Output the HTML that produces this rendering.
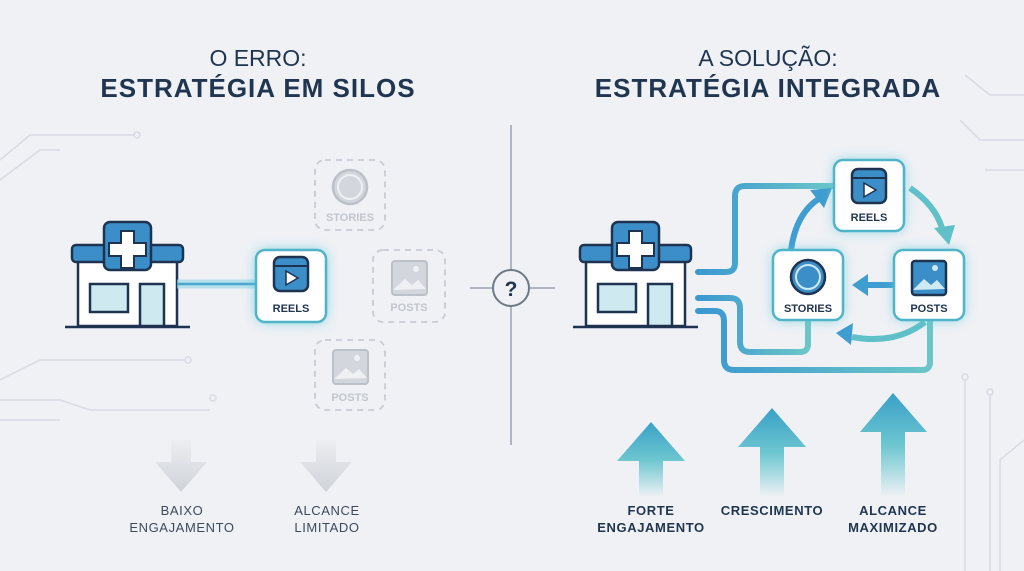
<!DOCTYPE html>
<html><head><meta charset="utf-8"><style>
html,body{margin:0;padding:0;background:#eff1f5;}
svg{display:block;font-family:"Liberation Sans",sans-serif;}
</style></head><body>
<svg width="1024" height="571" viewBox="0 0 1024 571">
<defs>
<linearGradient id="up" x1="0" y1="0" x2="0" y2="1">
<stop offset="0" stop-color="#3aa0c8"/><stop offset="0.5" stop-color="#6cc6cf"/><stop offset="1" stop-color="#eff1f5"/></linearGradient>
<linearGradient id="dn" x1="0" y1="0" x2="0" y2="1">
<stop offset="0" stop-color="#eceef1"/><stop offset="1" stop-color="#cfd2d8"/></linearGradient>
<linearGradient id="ln" x1="0" y1="0" x2="1" y2="0">
<stop offset="0" stop-color="#3b98d0"/><stop offset="1" stop-color="#6cc6c8"/></linearGradient>
<filter id="glow" x="-40%" y="-40%" width="180%" height="180%"><feGaussianBlur stdDeviation="6"/></filter>
<g id="bld">
<rect x="13" y="38" width="99" height="66" fill="#fff" stroke="#1e3350" stroke-width="2.5"/>
<rect x="7" y="23" width="111" height="17" rx="4" fill="#3b8ec8" stroke="#1e3350" stroke-width="2.5"/>
<rect x="39" y="0" width="47" height="48" rx="6" fill="#3b8ec8" stroke="#1e3350" stroke-width="2.5"/>
<path d="M56 9h13v12h12v13h-12v12h-13v-12h-12v-13h12z" fill="#fff" stroke="#1e3350" stroke-width="2"/>
<rect x="25" y="62" width="38" height="28" fill="#cfe9f0" stroke="#1e3350" stroke-width="2.5"/>
<rect x="75" y="62" width="24" height="42" fill="#cfe9f0" stroke="#1e3350" stroke-width="2.5"/>
<line x1="0" y1="105" x2="125" y2="105" stroke="#1e3350" stroke-width="2.5"/>
</g>
<g id="reelicon">
<rect x="-17" y="-17" width="34" height="34" rx="6" fill="#3b8ec8" stroke="#1e3350" stroke-width="2.5"/>
<line x1="-17" y1="-8" x2="17" y2="-8" stroke="#1e3350" stroke-width="2"/>
<path d="M-5 -3 L7 4 L-5 11Z" fill="#fff" stroke="#1e3350" stroke-width="1.5"/>
</g>
</defs>

<g stroke="#d7dbe2" stroke-width="1.5" fill="none">
<path d="M0 160 L30 135 L135 135"/><circle cx="137" cy="135" r="3"/>
<path d="M0 180 L40 150 L60 150"/>
<path d="M0 380 L40 360 L185 360"/><circle cx="188" cy="360" r="3"/>
<path d="M0 400 L60 400 L90 410 L210 410"/><circle cx="213" cy="398" r="3"/>
<path d="M0 420 L60 420"/>
<path d="M1024 140 L980 140 L960 120"/><path d="M1024 170 L985 170"/>
<path d="M1024 95 L990 95 L965 75"/>
<path d="M965 380 L965 571"/><circle cx="965" cy="377" r="3"/>
<path d="M990 395 L990 571"/><circle cx="990" cy="392" r="3"/>
<path d="M1024 440 L1000 460 L1000 571"/>
</g>

<text x="258" y="66" font-size="23" fill="#1f3550" text-anchor="middle">O ERRO:</text>
<text x="258" y="97" font-size="26" font-weight="bold" fill="#1f3550" text-anchor="middle" letter-spacing="1">ESTRATÉGIA EM SILOS</text>
<text x="768" y="66" font-size="23" fill="#1f3550" text-anchor="middle">A SOLUÇÃO:</text>
<text x="768" y="97" font-size="26" font-weight="bold" fill="#1f3550" text-anchor="middle" letter-spacing="1">ESTRATÉGIA INTEGRADA</text>

<line x1="511" y1="125" x2="511" y2="445" stroke="#9aa2ae" stroke-width="1.5"/>
<line x1="470" y1="288" x2="555" y2="288" stroke="#9aa2ae" stroke-width="1.5"/>
<circle cx="511" cy="288" r="18" fill="#eff1f5" stroke="#6f7885" stroke-width="2"/>
<text x="511" y="296" font-size="21" font-weight="bold" fill="#1f3550" text-anchor="middle">?</text>

<use href="#bld" x="65" y="222"/>
<line x1="177" y1="284" x2="256" y2="284" stroke="#9fdbe6" stroke-width="9" opacity="0.7"/>
<line x1="177" y1="284" x2="256" y2="284" stroke="#4aa6cf" stroke-width="2.5"/>
<rect x="256" y="250" width="70" height="72" rx="9" fill="#5cc8d8" filter="url(#glow)" opacity="0.8"/>
<rect x="256" y="250" width="70" height="72" rx="9" fill="#fff" stroke="#4fb4c8" stroke-width="2.5"/>
<use href="#reelicon" x="291" y="274"/>
<text x="291" y="312" font-size="11" font-weight="bold" fill="#1f3550" text-anchor="middle">REELS</text>

<g fill="none" stroke="#c8ccd3" stroke-width="1.8" stroke-dasharray="6 5">
<rect x="315" y="160" width="70" height="70" rx="10"/>
<rect x="373" y="250" width="72" height="72" rx="10"/>
<rect x="315" y="340" width="70" height="70" rx="10"/>
</g>
<circle cx="350" cy="187" r="17" fill="#d3d6dc" stroke="#bcc0c7" stroke-width="2.5"/>
<circle cx="350" cy="187" r="12" fill="none" stroke="#eef0f3" stroke-width="2"/>
<text x="350" y="221" font-size="11" font-weight="bold" fill="#c2c6cd" text-anchor="middle">STORIES</text>
<rect x="392" y="261" width="35" height="34" rx="3" fill="#d3d6dc" stroke="#bcc0c7" stroke-width="2"/>
<path d="M393 290 L405 279 L412 285 L418 280 L426 289Z" fill="#eef0f3"/>
<circle cx="416" cy="269" r="3" fill="#eef0f3"/>
<text x="409" y="311" font-size="11" font-weight="bold" fill="#c2c6cd" text-anchor="middle">POSTS</text>
<rect x="333" y="350" width="35" height="34" rx="3" fill="#d3d6dc" stroke="#bcc0c7" stroke-width="2"/>
<path d="M334 379 L346 368 L353 374 L359 369 L367 378Z" fill="#eef0f3"/>
<circle cx="357" cy="358" r="3" fill="#eef0f3"/>
<text x="350" y="401" font-size="11" font-weight="bold" fill="#c2c6cd" text-anchor="middle">POSTS</text>

<path d="M171 440 L191 440 L191 462 L207 462 L181 492 L155 462 L171 462Z" fill="url(#dn)"/>
<path d="M316 440 L336 440 L336 462 L352 462 L326 492 L300 462 L316 462Z" fill="url(#dn)"/>
<g font-size="13" fill="#3c4a5c" text-anchor="middle" letter-spacing="0.6">
<text x="182" y="515">BAIXO</text><text x="182" y="532">ENGAJAMENTO</text>
<text x="327" y="515">ALCANCE</text><text x="327" y="532">LIMITADO</text>
</g>

<g fill="none" stroke="url(#ln)" stroke-width="6" stroke-linejoin="round" stroke-linecap="round">
<path d="M698 272 L726 272 Q735 272 735 263 L735 196 Q735 186 745 186 L833 186"/>
<path d="M698 285 L773 285"/>
<path d="M698 298 L730 298 Q740 298 740 308 L740 342 Q740 352 750 352 L800 352 Q808 352 808 344 L808 322"/>
<path d="M698 311 L715 311 Q724 311 724 321 L724 360 Q724 370 734 370 L922 370 Q930 370 930 362 L930 322"/>
</g>
<g fill="none" stroke-width="6">
<path d="M791 250 Q796 213 820 198" stroke="#3f9dd0"/>
<path d="M910 188 Q935 205 942 228" stroke="#5fc0c8"/>
<path d="M893 285 L866 285" stroke="#3f9dd0"/>
<path d="M925 322 Q895 345 852 337" stroke="#5fc0c8"/>
</g>
<path d="M832 188 L810 190 L824 208Z" fill="#3f9dd0"/>
<path d="M949 245 L934 228 L955 225Z" fill="#5fc0c8"/>
<path d="M852 285 L868 274 L868 296Z" fill="#3f9dd0"/>
<path d="M836 333 L853 323 L851 345Z" fill="#3f9dd0"/>

<use href="#bld" x="573" y="222"/>

<rect x="834" y="160" width="70" height="71" rx="9" fill="#5cc8d8" filter="url(#glow)" opacity="0.7"/>
<rect x="834" y="160" width="70" height="71" rx="9" fill="#fff" stroke="#4fb4c8" stroke-width="2.5"/>
<use href="#reelicon" x="869" y="186"/>
<text x="869" y="221" font-size="11" font-weight="bold" fill="#1f3550" text-anchor="middle">REELS</text>

<rect x="773" y="250" width="70" height="70" rx="9" fill="#5cc8d8" filter="url(#glow)" opacity="0.7"/>
<rect x="773" y="250" width="70" height="70" rx="9" fill="#fff" stroke="#4fb4c8" stroke-width="2.5"/>
<circle cx="808" cy="277" r="17" fill="#3b8ec8" stroke="#1e3350" stroke-width="2.5"/>
<circle cx="808" cy="277" r="12" fill="none" stroke="#cfeaf2" stroke-width="2"/>
<text x="808" y="312" font-size="11" font-weight="bold" fill="#1f3550" text-anchor="middle">STORIES</text>

<rect x="894" y="250" width="70" height="70" rx="9" fill="#5cc8d8" filter="url(#glow)" opacity="0.7"/>
<rect x="894" y="250" width="70" height="70" rx="9" fill="#fff" stroke="#4fb4c8" stroke-width="2.5"/>
<rect x="912" y="261" width="34" height="34" rx="3" fill="#3b8ec8" stroke="#1e3350" stroke-width="2.5"/>
<path d="M913 290 L924 279 L931 285 L937 280 L945 289Z" fill="#cfeaf2"/>
<circle cx="935" cy="268" r="3" fill="#cfeaf2"/>
<text x="929" y="312" font-size="11" font-weight="bold" fill="#1f3550" text-anchor="middle">POSTS</text>

<path d="M651 422 L685 461 L663 461 L663 497 L639 497 L639 461 L617 461Z" fill="url(#up)"/>
<path d="M772 408 L806 447 L784 447 L784 497 L760 497 L760 447 L738 447Z" fill="url(#up)"/>
<path d="M893 393 L927 432 L905 432 L905 497 L881 497 L881 432 L860 432Z" fill="url(#up)"/>
<g font-size="13" font-weight="bold" fill="#1f3550" text-anchor="middle" letter-spacing="0.6">
<text x="651" y="515">FORTE</text><text x="651" y="532">ENGAJAMENTO</text>
<text x="772" y="515">CRESCIMENTO</text>
<text x="893" y="515">ALCANCE</text><text x="893" y="532">MAXIMIZADO</text>
</g>
</svg>
</body></html>
